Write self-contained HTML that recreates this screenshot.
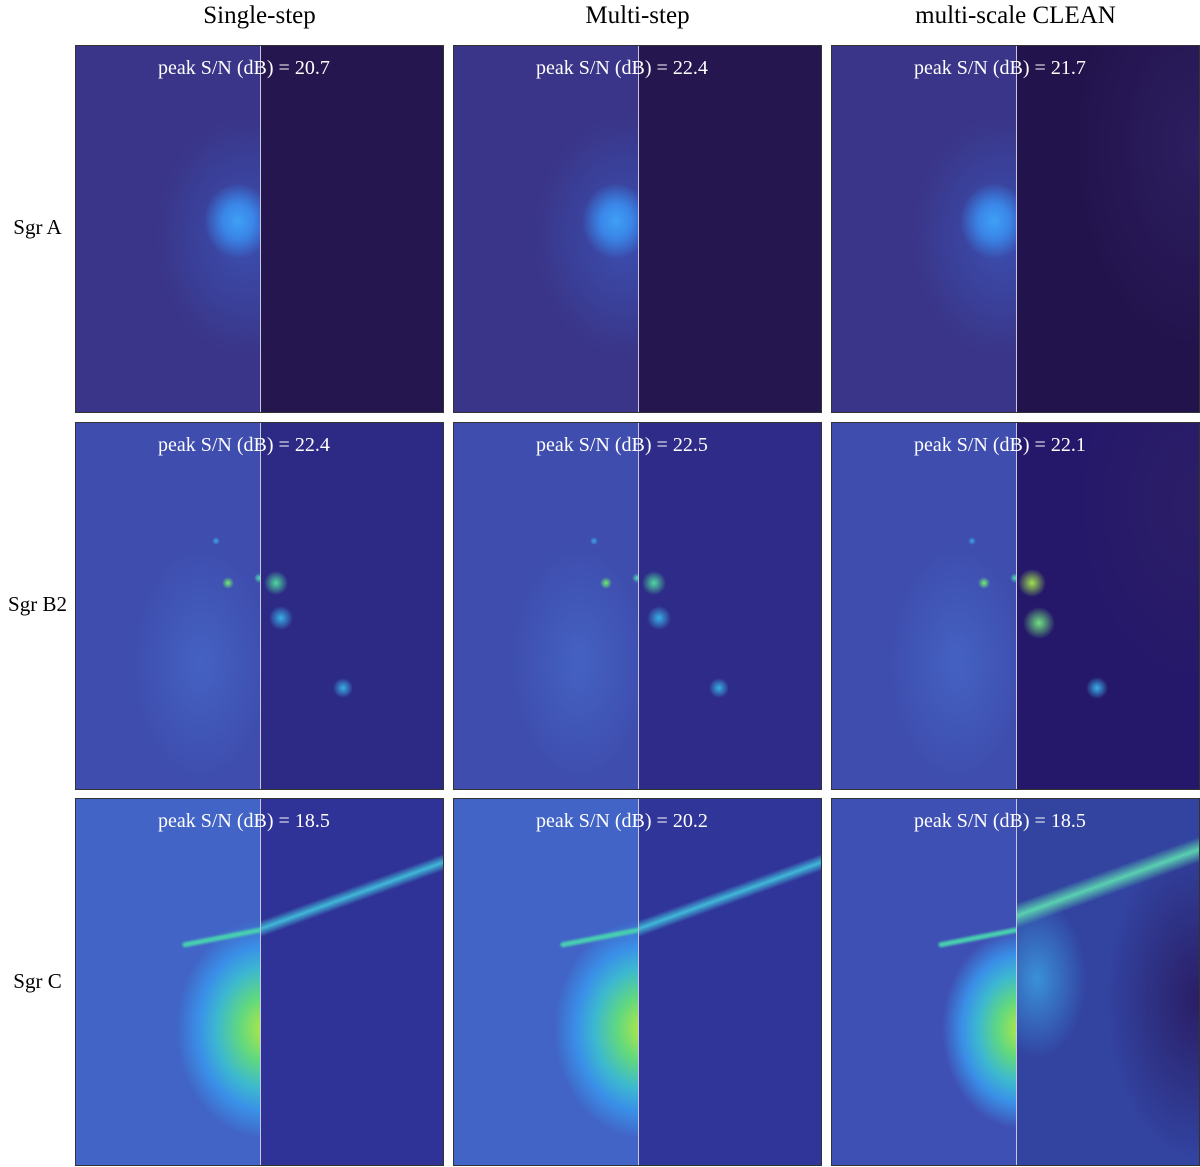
<!DOCTYPE html>
<html><head><meta charset="utf-8"><style>
body{margin:0;width:1200px;height:1167px;background:#fff;position:relative;overflow:hidden;font-family:"Liberation Serif",serif}
.ct{position:absolute;top:2px;font-size:25px;text-align:center;width:369px;color:#000}
.rl{position:absolute;left:0;width:75px;text-align:center;font-size:21px}
.p{position:absolute;width:367px;height:366px;border:1px solid #333;overflow:hidden}
.l,.r{position:absolute;top:0;height:100%}
.l{left:0;width:184px}
.r{left:185px;width:182px}
.sp{position:absolute;left:184px;top:0;width:1px;height:100%;background:#c8c8e0}
.t{position:absolute;top:11px;left:82px;font-size:20px;color:#fff;white-space:nowrap}
</style></head><body>
<div class="ct" style="left:75px">Single-step</div>
<div class="ct" style="left:453px">Multi-step</div>
<div class="ct" style="left:831px">multi-scale CLEAN</div>
<div class="rl" style="top:215px">Sgr A</div>
<div class="rl" style="top:592px">Sgr B2</div>
<div class="rl" style="top:969px">Sgr C</div>
<div id="grid"></div>
<script>
const cols=[75,453,831];
const rows=[45,422,798];
const snr=[["20.7","22.4","21.7"],["22.4","22.5","22.1"],["18.5","20.2","18.5"]];
const leftBg=[
 "radial-gradient(ellipse 34px 38px at 162px 175px,#3fa0f5 0%,#3a86e8 45%,rgba(58,70,170,0) 100%),radial-gradient(ellipse 90px 120px at 170px 190px,#3b4fb0 0%,rgba(58,58,145,0) 100%),#3a3588",
 "radial-gradient(circle 6px at 152px 160px,#6ff06a,rgba(0,0,0,0)),radial-gradient(circle 4px at 140px 118px,#3fa8f0,rgba(0,0,0,0)),radial-gradient(circle 5px at 183px 155px,#4ee0b0,rgba(0,0,0,0)),radial-gradient(ellipse 70px 120px at 125px 240px,#4462c2,rgba(0,0,0,0)),#3e4dae",
 "radial-gradient(ellipse 90px 110px at 190px 230px,#b8e840 0%,#60d880 30%,#3cb8d0 55%,#3a90e8 75%,rgba(60,100,200,0) 100%),#4164c6"
];
const rightBg=[
 ["#25164f","#25164f","radial-gradient(ellipse 120px 200px at 180px 100px,#2c1e60,rgba(0,0,0,0)),#23134d"],
 ["radial-gradient(circle 12px at 15px 160px,#4fd9a0,rgba(0,0,0,0)),radial-gradient(circle 12px at 20px 195px,#3ab0e8,rgba(0,0,0,0)),radial-gradient(circle 10px at 82px 265px,#3ab0e8,rgba(0,0,0,0)),#2d2a85",
  "radial-gradient(circle 12px at 15px 160px,#4fd9a0,rgba(0,0,0,0)),radial-gradient(circle 12px at 20px 195px,#3ab0e8,rgba(0,0,0,0)),radial-gradient(circle 10px at 80px 265px,#3ab0e8,rgba(0,0,0,0)),#2e2c88",
  "radial-gradient(circle 14px at 15px 160px,#a0e050,rgba(0,0,0,0)),radial-gradient(circle 16px at 22px 200px,#70e080,rgba(0,0,0,0)),radial-gradient(circle 11px at 80px 265px,#3ab0e8,rgba(0,0,0,0)),radial-gradient(ellipse 120px 180px at 180px 80px,#2c1e66,rgba(0,0,0,0)),#25186a"],
 ["linear-gradient(160deg,rgba(0,0,0,0) 28%,#40b8d8 30%,rgba(0,0,0,0) 32%),#2f3296",
  "linear-gradient(160deg,rgba(0,0,0,0) 28%,#40b8d8 30%,rgba(0,0,0,0) 32%),#30359a",
  "linear-gradient(160deg,rgba(0,0,0,0) 24%,#5ad0b0 27%,rgba(0,0,0,0) 30%),radial-gradient(ellipse 50px 80px at 20px 180px,#3a90d8,rgba(0,0,0,0)),radial-gradient(ellipse 90px 160px at 180px 200px,#2a1e66,rgba(0,0,0,0)),#3243a0"]
];
const grid=document.getElementById('grid');
for(let r=0;r<3;r++)for(let c=0;c<3;c++){
 const p=document.createElement('div');p.className='p';
 p.style.left=cols[c]+'px';p.style.top=rows[r]+'px';
 
 
 const l=document.createElement('div');l.className='l';
 l.style.background=(r==2&&c==2)?"radial-gradient(ellipse 80px 100px at 190px 230px,#b8e840 0%,#60d880 30%,#3cb8d0 55%,#3a90e8 75%,rgba(60,100,200,0) 100%),#3f50b4":leftBg[r];
 
 
 if(r==2){
  const fl=document.createElement('div');
  
  
  fl.style.cssText='position:absolute;left:105px;top:128px;width:82px;height:5px;border-radius:3px;background:#48d0b0;transform:rotate(-11deg);transform-origin:right center;filter:blur(1px)';
  l.appendChild(fl);
 }
 const rr=document.createElement('div');rr.className='r';rr.style.background=rightBg[r][c];
 
 
 const s=document.createElement('div');s.className='sp';
 
 
 const t=document.createElement('div');t.className='t';t.textContent='peak S/N (dB) = '+snr[r][c];
 
 
 p.append(l,rr,s,t);grid.appendChild(p);
}
</script>
</body></html>
